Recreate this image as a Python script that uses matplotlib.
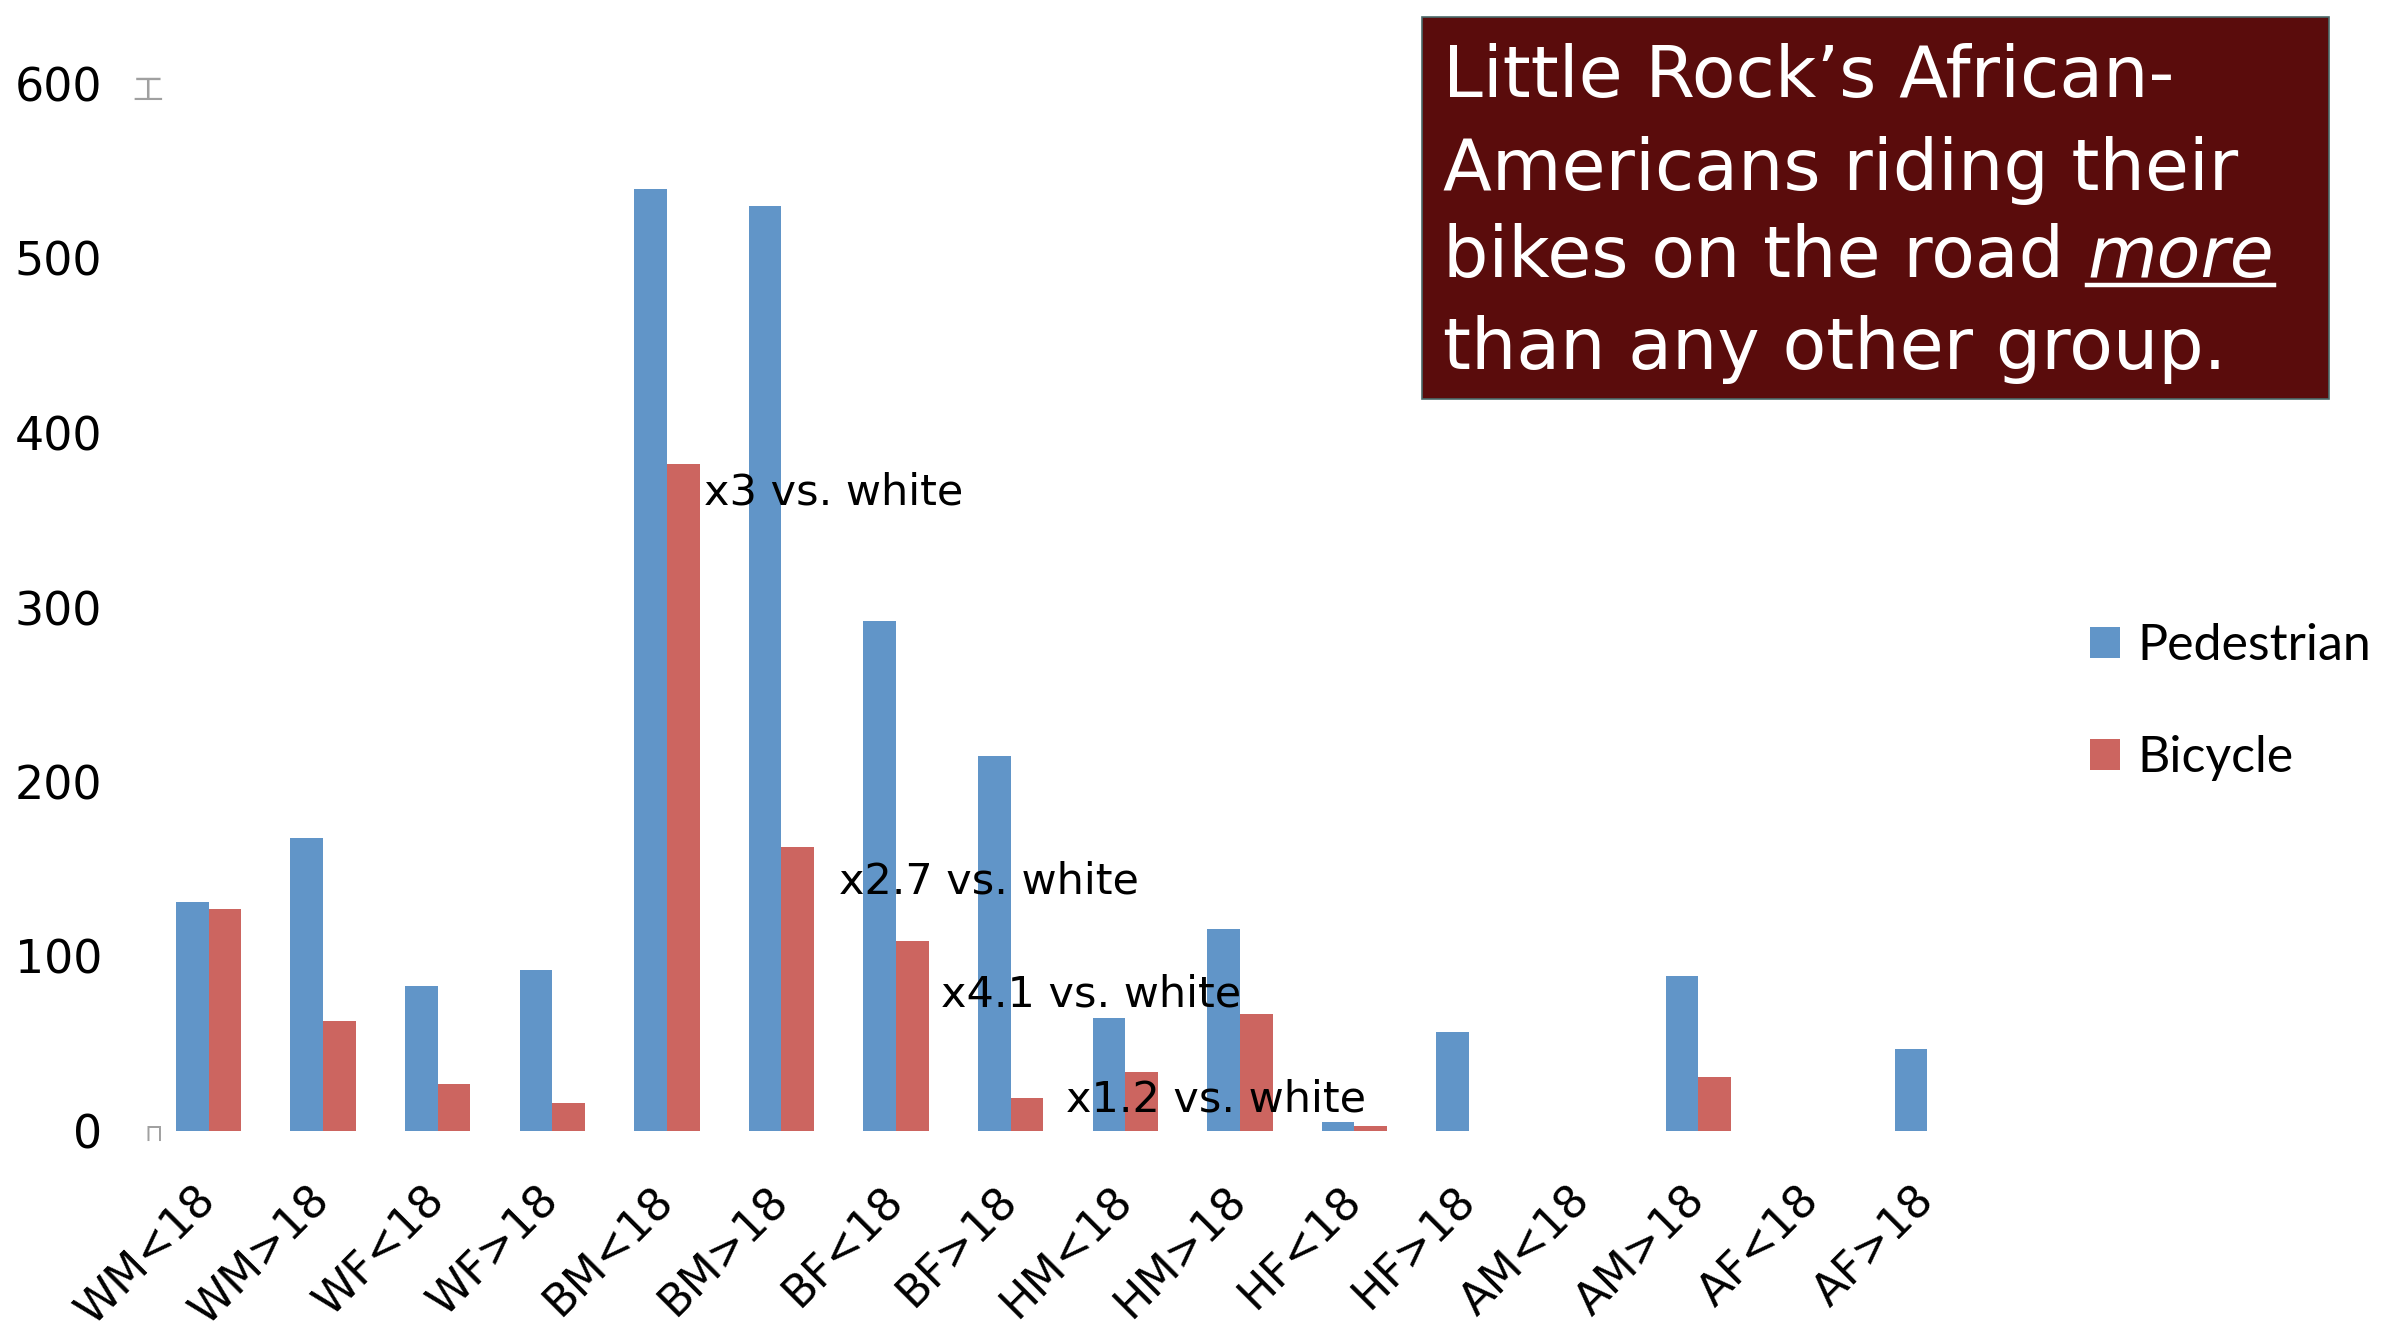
import matplotlib
matplotlib.use("Agg")
import matplotlib.pyplot as plt
import numpy as np
from matplotlib.patches import Rectangle
from matplotlib.lines import Line2D
from matplotlib.transforms import ScaledTranslation

# data
groups = ["WM<18", "WM>18", "WF<18", "WF>18", "BM<18", "BM>18", "BF<18", "BF>18",
          "HM<18", "HM>18", "HF<18", "HF>18", "AM<18", "AM>18", "AF<18", "AF>18"]
pedestrian = [131, 168, 83, 92, 540, 530, 292, 215, 65, 116, 5, 57, 0, 89, 0, 47]
bicycle = [127, 63, 27, 16, 382, 163, 109, 19, 34, 67, 3, 0, 0, 31, 0, 0]

notes = ["x3 vs. white", "x2.7 vs. white", "x4.1 vs. white", "x1.2 vs. white"]
note_x = [4.32, 5.50, 6.39, 7.48]
note_y = [366, 143, 78, 18]

title_lines = ["Little Rock\u2019s African-", "Americans riding their",
               "bikes on the road", "than any other group."]

blue = "#6195c8"
red = "#cc6560"

W, H = 2387, 1330
fig = plt.figure(figsize=(W / 100, H / 100), dpi=100)
ax = fig.add_axes([128.3 / W, 1 - 1131 / H, (2042 - 128.3) / W, (1131 - 84) / H])

x = np.arange(len(groups))
bw = 0.285
b1 = ax.bar(x - bw / 2, pedestrian, bw, color=blue, label="Pedestrian")
b2 = ax.bar(x + bw / 2, bicycle, bw, color=red, label="Bicycle")

ax.set_xlim(-0.7, 16)
ax.set_ylim(0, 600)
ax.set_yticks(range(0, 601, 100))
ax.set_xticks(x)
ax.set_xticklabels(groups, rotation=45, ha="right", rotation_mode="anchor", va="center",
                   fontsize=32)
for lab in ax.get_xticklabels():
    lab.set_transform(lab.get_transform() + ScaledTranslation(0.19, 0, fig.dpi_scale_trans))
for s in ax.spines.values():
    s.set_visible(False)
ax.tick_params(axis="both", length=0)
ax.tick_params(axis="y", labelsize=33, pad=19)
ax.tick_params(axis="x", pad=45)

for t, nx, ny in zip(notes, note_x, note_y):
    ax.text(nx, ny, t, fontsize=31, ha="left", va="center", color="black")

# small grey leftovers near the axis
fig.text(148 / W, 1 - 91 / H, "\u5de5", family="Noto Sans CJK SC", fontsize=22,
         color="#a0a0a0", ha="center", va="center")
fig.text(154 / W, 1 - 1134 / H, "\u2293", fontsize=17, color="#a0a0a0",
         ha="center", va="center")

ax.legend(handles=[b1, b2], loc="center left", bbox_to_anchor=(2090 / W, 1 - 702 / H),
          bbox_transform=fig.transFigure, frameon=False, handlelength=0.6,
          handleheight=0.6, handletextpad=0.35, labelspacing=1.32, borderpad=0,
          borderaxespad=0, prop={"family": "Lato", "size": 36})

# title box
fig.patches.append(Rectangle((1422 / W, 1 - 399 / H), (2329 - 1422) / W, (399 - 17) / H,
                             transform=fig.transFigure, facecolor="#5a0c0c",
                             edgecolor="#4a6a6a", linewidth=1.2))
baselines = [97, 190, 277, 369]
tx = 1443 / W
texts = []
for line, b in zip(title_lines, baselines):
    texts.append(fig.text(tx, 1 - b / H, line, fontsize=51.5, color="white",
                          ha="left", va="baseline"))

r = fig.canvas.get_renderer()
ext = texts[2].get_window_extent(renderer=r)
more = fig.text((ext.x1 + 23) / W, 1 - 277 / H, "more", fontsize=51.5, color="white",
                style="italic", ha="left", va="baseline")
mext = more.get_window_extent(renderer=r)
uy = 1 - 285 / H
fig.lines.append(Line2D([mext.x0 / W, mext.x1 / W], [uy, uy], transform=fig.transFigure,
                        color="white", linewidth=3.2))

fig.savefig("out.png", dpi=100)
